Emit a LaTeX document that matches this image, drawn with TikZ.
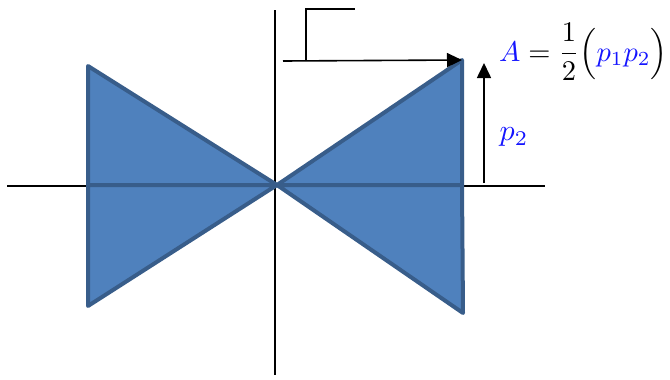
\documentclass[tikz,border=0pt]{standalone}
\usepackage{graphicx}
\usepackage{tikz}
\usetikzlibrary{arrows.meta,positioning}
\definecolor{BowFill}{RGB}{79,129,189}
\definecolor{BowEdge}{RGB}{56,93,138}
\definecolor{BowText}{RGB}{20,20,255}
\tikzset{
  bow/tri/.style={
    fill=BowFill,
    draw=BowEdge,
    line width=4pt,
    line join=round
  },
  bow/axis/.style={draw=black, line width=1.6pt},
  bow/arrow/.style={-{Triangle[length=15pt,width=14pt]}, draw=black, line width=1.6pt},
  bow/label/.style={text=BowText, inner sep=0pt}
}

\begin{document}
\begin{tikzpicture}[x=1pt,y=-1pt]
  \useasboundingbox (0,0) rectangle (670,380);
  % axes
  \coordinate (xl) at (7,186);
  \coordinate (xr) at (545,186);
  \coordinate (yt) at (275,10);
  \coordinate (yb) at (275,375);
  \draw[bow/axis] (xl) -- (xr);
  \draw[bow/axis] (yt) -- (yb);
  % bow tie
  \coordinate (O) at (277,185);
  \coordinate (LT) at (88,66);
  \coordinate (LM) at (88,185);
  \coordinate (LB) at (88,306);
  \coordinate (RT) at (462,60);
  \coordinate (RM) at (462,185);
  \coordinate (RB) at (463,313);
  \filldraw[bow/tri] (LT) -- (O) -- (LM) -- cycle;
  \filldraw[bow/tri] (LM) -- (O) -- (LB) -- cycle;
  \filldraw[bow/tri] (O) -- (RT) -- (RM) -- cycle;
  \filldraw[bow/tri] (O) -- (RM) -- (RB) -- cycle;
  % p1 arrow and bracket
  \coordinate (p1s) at (283,61);
  \coordinate (k1) at (306,61);
  \coordinate (k2) at (306,9);
  \coordinate (k3) at (355,9);
  \draw[bow/axis] (k1) -- (k2) -- (k3);
  \draw[bow/arrow] (p1s) -- (RT);
  % p2 arrow
  \coordinate (p2s) at (484,183);
  \coordinate (p2e) at (484,63);
  \draw[bow/arrow] (p2s) -- (p2e);
  \node[bow/label] (p2) at (514,137) {\scalebox{3.0}{$p_2$}};
  \node[bow/label, anchor=east] (area) at (668,52)
    {\scalebox{2.85}{$\displaystyle A\color{black}=\frac{1}{2}\Bigl(\color{BowText}p_1p_2\color{black}\Bigr)$}};
\end{tikzpicture}
\end{document}
